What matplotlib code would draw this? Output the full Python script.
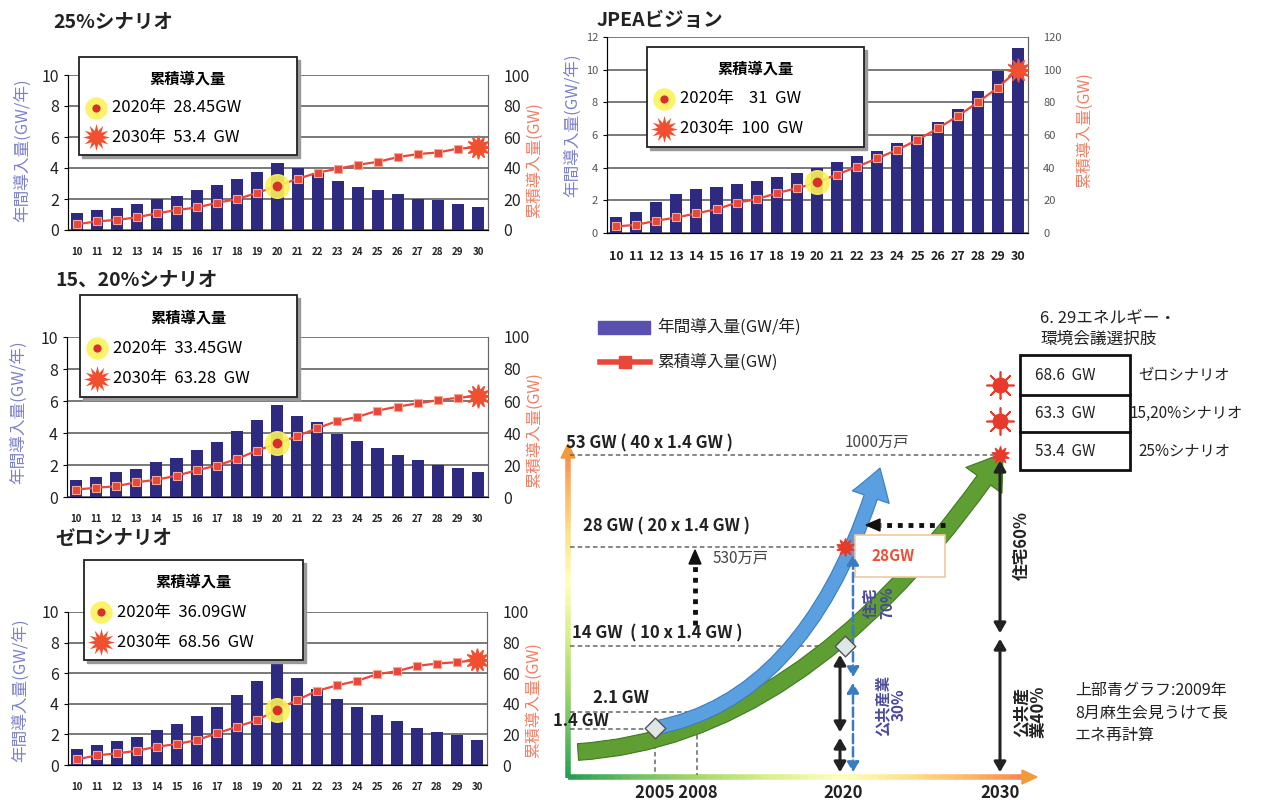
import numpy as np
import matplotlib.pyplot as plt
from matplotlib.patches import Rectangle, FancyArrowPatch, Polygon
from matplotlib.path import Path
from matplotlib.collections import LineCollection

plt.rcParams['font.family'] = ['Noto Sans CJK JP', 'DejaVu Sans']

W, H = 1267, 800

# ---- data ----
years = [str(y) for y in range(10, 31)]

s25_annual = [1.1, 1.3, 1.4, 1.7, 2.0, 2.2, 2.55, 2.9, 3.3, 3.75, 4.3, 4.0, 3.65,
              3.15, 2.8, 2.55, 2.3, 2.0, 1.95, 1.65, 1.5]
s25_cumul = [3.7, 5.6, 6.5, 8.2, 10.8, 12.9, 14.6, 17.6, 20.0, 24.0, 28.45, 33.0, 37.0,
             39.5, 42.0, 44.0, 47.0, 49.0, 50.0, 52.5, 53.4]

jpea_annual = [1.0, 1.3, 1.9, 2.4, 2.7, 2.8, 3.0, 3.2, 3.4, 3.7, 4.0, 4.35, 4.7,
               5.05, 5.5, 6.0, 6.8, 7.6, 8.7, 9.9, 11.3]
jpea_cumul = [4.0, 5.0, 7.5, 9.5, 12.0, 14.6, 18.5, 20.7, 24.4, 27.4, 31.0, 35.8, 40.6,
              45.7, 51.0, 57.0, 64.0, 71.5, 80.0, 89.0, 100.0]

s1520_annual = [1.08, 1.25, 1.56, 1.75, 2.2, 2.46, 2.94, 3.44, 4.12, 4.83, 5.75, 5.07, 4.7,
                3.96, 3.48, 3.04, 2.65, 2.3, 2.0, 1.83, 1.54]
s1520_cumul = [4.6, 5.8, 6.7, 9.2, 10.8, 13.3, 16.7, 19.6, 23.8, 29.0, 33.45, 38.0, 43.0,
               47.5, 50.0, 54.0, 56.5, 58.5, 60.5, 62.0, 63.28]

zero_annual = [1.02, 1.3, 1.57, 1.83, 2.28, 2.67, 3.2, 3.8, 4.57, 5.48, 6.57, 5.7, 5.0,
               4.3, 3.78, 3.28, 2.87, 2.43, 2.15, 1.98, 1.63]
zero_cumul = [3.7, 6.3, 7.6, 9.3, 12.0, 13.7, 16.3, 20.7, 25.0, 29.3, 36.09, 42.4, 48.5,
              52.0, 55.0, 59.3, 61.3, 64.8, 66.3, 67.2, 68.56]

options_gw = ['68.6  GW', '63.3  GW', '53.4  GW']
options_name = ['ゼロシナリオ', '15,20%シナリオ', '25%シナリオ']

BAR = '#2e2a80'
LINE = '#e8473a'
BLUE_LBL = '#7d82c8'
RED_LBL = '#ef7f62'

fig = plt.figure(figsize=(W / 100, H / 100), dpi=100)
fig.patch.set_facecolor('white')


def fx(x):
    return x / W


def fy(y):
    return 1 - y / H


def scenario(px, title, title_xy, annual, cumul, lmax, rmax, lstep, rstep,
             ylab_xy, rlab_xy, box, texts, small=False):
    l, t, r, b = px
    ax = fig.add_axes([fx(l), fy(b), fx(r) - fx(l), fy(t) - fy(b)])
    x = np.arange(len(years))
    ax.bar(x, annual, width=0.6, color=BAR, zorder=3)
    ax.set_xlim(-0.45, len(years) - 0.5)
    ax.set_ylim(0, lmax)
    ax.set_yticks(np.arange(0, lmax + 1, lstep))
    ax.yaxis.grid(True, color='#555555', lw=1.1)
    ax.set_axisbelow(True)
    ax.set_xticks(x)
    ax.set_xticklabels(years, fontsize=9 if small else 7, fontweight='bold', color='#222')
    ax.tick_params(axis='x', length=0, pad=12)
    ax.tick_params(axis='y', labelsize=8 if small else 11.5, length=3,
                   labelcolor='#555' if small else '#222')
    ax.spines['top'].set_visible(False)
    for s in ['left', 'right', 'bottom']:
        ax.spines[s].set_color('#666')
    ax2 = ax.twinx()
    ax2.set_ylim(0, rmax)
    ax2.set_yticks(np.arange(0, rmax + 1, rstep))
    ax2.tick_params(axis='y', labelsize=8 if small else 11.5, length=0, pad=11,
                    labelcolor='#555' if small else '#222')
    ax2.spines['top'].set_visible(False)
    ax2.spines['right'].set_color('#666')
    ax2.plot(x, cumul, color=LINE, lw=1.6, marker='s', ms=6,
             mec='#f7a890', mew=0.8, zorder=4)
    ax2.plot(x[10], cumul[10], 'o', ms=17, color='#fbf25a', alpha=0.9, zorder=5)
    ax2.plot(x[10], cumul[10], 'o', ms=6, color='#d8302a', zorder=6)
    ax2.plot(x[20], cumul[20], marker=(12, 1, 0), ms=17, color='#f05030', zorder=6)

    fig.text(fx(title_xy[0]), fy(title_xy[1]), title, fontsize=14, fontweight='bold',
             va='center', color='#222')
    fig.text(fx(ylab_xy[0]), fy(ylab_xy[1]), '年間導入量(GW/年)', rotation=90,
             fontsize=12, color=BLUE_LBL, ha='center', va='center')
    fig.text(fx(rlab_xy[0]), fy(rlab_xy[1]), '累積導入量(GW)', rotation=90,
             fontsize=11.5, color=RED_LBL, ha='center', va='center')

    bl, bt, br, bb = box
    ov.add_patch(Rectangle((bl + 3, bt + 3), br - bl, bb - bt, color='#999', zorder=9))
    ov.add_patch(Rectangle((bl, bt), br - bl, bb - bt, facecolor='white',
                           edgecolor='#222', lw=1.3, zorder=10))
    h = bb - bt
    ov.text((bl + br) / 2, bt + h * 0.22, '累積導入量', fontsize=11, fontweight='bold',
            ha='center', va='center', zorder=11)
    mx = bl + 17
    y1, y2 = bt + h * 0.52, bt + h * 0.82
    ov.scatter([mx], [y1], s=260, color='#fbf25a', alpha=0.9, lw=0, zorder=11)
    ov.scatter([mx], [y1], s=35, color='#d8302a', lw=0, zorder=12)
    ov.scatter([mx], [y2], s=380, marker=(12, 1, 0), color='#f05030', lw=0, zorder=11)
    ov.text(mx + 16, y1, texts[0], fontsize=12, va='center', zorder=11)
    ov.text(mx + 16, y2, texts[1], fontsize=12, va='center', zorder=11)


ov = fig.add_axes([0, 0, 1, 1], zorder=5)
ov.set_xlim(0, W)
ov.set_ylim(H, 0)
ov.axis('off')
ov.patch.set_alpha(0)

scenario((68, 75, 488, 230), '25%シナリオ', (53, 22), s25_annual, s25_cumul,
         10, 100, 2, 20, (22, 150), (535, 160), (79, 57, 297, 155),
         ['2020年  28.45GW', '2030年  53.4  GW'])
scenario((607, 37, 1028, 233), 'JPEAビジョン', (597, 20), jpea_annual, jpea_cumul,
         12, 120, 2, 20, (572, 125), (1085, 130), (647, 47, 864, 147),
         ['2020年    31  GW', '2030年  100  GW'], small=True)
scenario((67, 337, 488, 497), '15、20%シナリオ', (55, 280), s1520_annual, s1520_cumul,
         10, 100, 2, 20, (18, 412), (535, 430), (80, 295, 297, 397),
         ['2020年  33.45GW', '2030年  63.28  GW'])
scenario((68, 612, 487, 765), 'ゼロシナリオ', (55, 538), zero_annual, zero_cumul,
         10, 100, 2, 20, (20, 690), (534, 700), (84, 560, 303, 660),
         ['2020年  36.09GW', '2030年  68.56  GW'])

# ---- schematic diagram (bottom right) ----
cmap = plt.get_cmap('RdYlGn_r')
yy = np.linspace(778, 450, 60)
seg = [[(568, yy[i]), (568, yy[i + 1])] for i in range(len(yy) - 1)]
lc = LineCollection(seg, colors=[cmap(0.12 + 0.65 * i / len(seg)) for i in range(len(seg))],
                    lw=4, zorder=6)
ov.add_collection(lc)
ov.add_patch(Polygon([(561, 458), (575, 458), (568, 444)], color='#f29a3a', zorder=6))
xx = np.linspace(568, 1025, 60)
seg = [[(xx[i], 777), (xx[i + 1], 777)] for i in range(len(xx) - 1)]
lc = LineCollection(seg, colors=[cmap(0.12 + 0.65 * i / len(seg)) for i in range(len(seg))],
                    lw=4, zorder=6)
ov.add_collection(lc)
ov.add_patch(Polygon([(1022, 770), (1022, 784), (1037, 777)], color='#f29a3a', zorder=6))

dash = dict(color='#666', lw=1.1, ls=(0, (3, 2)), zorder=6)
ov.plot([570, 1000], [455, 455], **dash)
ov.plot([570, 845], [547, 547], **dash)
ov.plot([570, 845], [646, 646], **dash)
ov.plot([570, 697], [712, 712], **dash)
ov.plot([570, 655], [729, 729], **dash)
ov.plot([655, 655], [729, 775], **dash)
ov.plot([697, 697], [712, 775], **dash)

green = Path([(578, 752), (810, 737), (1003, 453)], [Path.MOVETO, Path.CURVE3, Path.CURVE3])
ov.add_patch(FancyArrowPatch(path=green, arrowstyle='simple,head_length=24,head_width=32,tail_width=12',
                             fc='#5e9e32', ec='#3f7a1f', lw=0.8, zorder=7))
blue = Path([(655, 728), (812, 698), (880, 468)], [Path.MOVETO, Path.CURVE3, Path.CURVE3])
ov.add_patch(FancyArrowPatch(path=blue, arrowstyle='simple,head_length=22,head_width=28,tail_width=10',
                             fc='#5aa0e0', ec='#3a7cc0', lw=0.8, zorder=7))

ov.scatter([655, 845], [728, 646], s=110, marker='D', color='#dfe6e6', edgecolor='#555', lw=1, zorder=9)
ov.scatter([845, 1000], [547, 455], s=160, marker=(10, 1, 0), color='#e83a2a', zorder=9)

# 28GW box and dotted arrows
ov.add_patch(Rectangle((855, 535), 90, 42, facecolor='white', edgecolor='#f0c8a0', lw=1.2, zorder=8))
ov.text(893, 556, '28GW', color='#e8503a', fontsize=11, fontweight='bold', ha='center', va='center', zorder=9)
ov.plot([945, 880], [525, 525], color='#111', lw=3.5, ls=(0, (1, 1.2)), zorder=9)
ov.add_patch(Polygon([(880, 519), (880, 531), (866, 525)], color='#111', zorder=9))
ov.plot([695, 695], [625, 562], color='#111', lw=3.5, ls=(0, (1, 1.2)), zorder=9)
ov.add_patch(Polygon([(689, 564), (701, 564), (695, 550)], color='#111', zorder=9))

# vertical share arrows
blk = dict(arrowstyle='<|-|>,head_length=0.6,head_width=0.35', color='#222', lw=2.2)
ov.annotate('', xy=(1000, 458), xytext=(1000, 636), arrowprops=blk, zorder=9)
ov.annotate('', xy=(1000, 636), xytext=(1000, 775), arrowprops=blk, zorder=9)
ov.annotate('', xy=(840, 652), xytext=(840, 735), arrowprops=blk, zorder=9)
ov.annotate('', xy=(840, 735), xytext=(840, 775), arrowprops=blk, zorder=9)
blu = dict(arrowstyle='<|-|>,head_length=0.6,head_width=0.35', color='#3a7cc0', lw=1.8, ls='--')
ov.annotate('', xy=(853, 552), xytext=(853, 680), arrowprops=blu, zorder=8)
ov.annotate('', xy=(853, 680), xytext=(853, 775), arrowprops=blu, zorder=8)

ov.text(1022, 545, '住宅60%', rotation=90, fontsize=12, fontweight='bold', color='#222',
        ha='center', va='center', zorder=9)
ov.text(1030, 712, '公共産\n業40%', rotation=90, fontsize=12, fontweight='bold', color='#222',
        ha='center', va='center', linespacing=1.0, zorder=9)
ov.text(879, 603, '住宅\n70%', rotation=90, fontsize=11, fontweight='bold', color='#4a4a9a',
        ha='center', va='center', linespacing=1.0, zorder=9)
ov.text(891, 705, '公共産業\n30%', rotation=90, fontsize=11, fontweight='bold', color='#4a4a9a',
        ha='center', va='center', linespacing=1.0, zorder=9)

# level labels
lvl = dict(fontsize=12, fontweight='bold', color='#222', va='center', zorder=9)
ov.text(566, 443, '53 GW ( 40 x 1.4 GW )', **lvl)
ov.text(583, 526, '28 GW ( 20 x 1.4 GW )', **lvl)
ov.text(572, 633, '14 GW  ( 10 x 1.4 GW )', **lvl)
ov.text(593, 698, '2.1 GW', **lvl)
ov.text(553, 721, '1.4 GW', **lvl)
ov.text(845, 442, '1000万戸', fontsize=11, color='#444', va='center', zorder=9)
ov.text(713, 558, '530万戸', fontsize=11, color='#444', va='center', zorder=9)
yr = dict(fontsize=12, fontweight='bold', color='#222', ha='center', va='center', zorder=9)
ov.text(676, 793, '2005 2008', **yr)
ov.text(843, 793, '2020', **yr)
ov.text(1000, 793, '2030', **yr)

# legend of diagram
ov.add_patch(Rectangle((598, 321), 52, 13, color='#5a50b0', zorder=9))
ov.text(657, 327, '年間導入量(GW/年)', fontsize=12, va='center', color='#222', zorder=9)
ov.plot([600, 650], [362, 362], color=LINE, lw=4, zorder=9)
ov.plot([625], [362], 's', color=LINE, ms=9, zorder=9)
ov.text(657, 362, '累積導入量(GW)', fontsize=12, va='center', color='#222', zorder=9)

# options table
ov.text(1040, 318, '6. 29エネルギー・', fontsize=12, va='center', color='#222', zorder=9)
ov.text(1040, 339, '環境会議選択肢', fontsize=12, va='center', color='#222', zorder=9)
rows_y = [355, 395, 432, 470]
ov.add_patch(Rectangle((1020, rows_y[0]), 110, rows_y[-1] - rows_y[0], facecolor='white',
                       edgecolor='#111', lw=2, zorder=8))
for i in range(len(options_gw)):
    yc = (rows_y[i] + rows_y[i + 1]) / 2
    if i > 0:
        ov.plot([1020, 1130], [rows_y[i], rows_y[i]], color='#111', lw=2, zorder=9)
    ov.text(1035, yc, options_gw[i], fontsize=11, va='center', color='#222', zorder=9)
    ov.text(1138 if i != 1 else 1130, yc, options_name[i], fontsize=11, va='center',
            color='#222', zorder=9)
for sy in [385, 421]:
    ov.scatter([1000], [sy], s=380, marker=(8, 2, 0), color='#e83a2a', lw=1.2, zorder=9)
    ov.scatter([1000], [sy], s=110, color='#e83a2a', zorder=9)

ov.text(1075, 713, '上部青グラフ:2009年\n8月麻生会見うけて長\nエネ再計算', fontsize=11.5,
        va='center', color='#222', linespacing=1.45, zorder=9)

fig.savefig('out.png', dpi=100, facecolor='white')
